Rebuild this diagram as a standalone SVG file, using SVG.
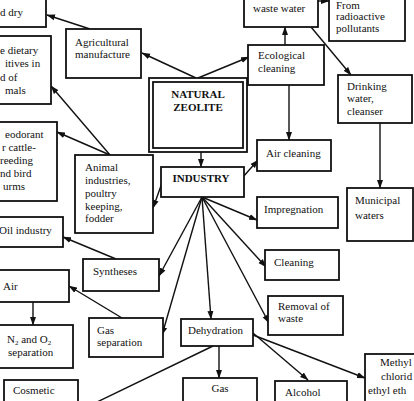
<svg xmlns="http://www.w3.org/2000/svg" width="414" height="401" viewBox="0 0 414 401">
<style>
.b{fill:#fff;stroke:#111;stroke-width:1.8}
.t{font-family:"Liberation Serif","Times New Roman",serif;font-size:11px;fill:#111}
.bold{font-weight:bold}
.c{stroke:#111;stroke-width:1.4;fill:none}
.a{marker-end:url(#ah)}
</style>
<defs>
<marker id="ah" markerUnits="userSpaceOnUse" markerWidth="9" markerHeight="7" refX="8" refY="3.5" orient="auto">
<path d="M0,0.5 L8.5,3.5 L0,6.5 z" fill="#111"/>
</marker>
</defs>
<rect width="414" height="401" fill="#fff"/>
<g id="connectors">
<line class="c a" x1="90" y1="29" x2="47" y2="15"/>
<line class="c a" x1="196" y1="78" x2="142" y2="53"/>
<line class="c a" x1="198" y1="78" x2="249" y2="57"/>
<line class="c a" x1="285" y1="45" x2="285" y2="27"/>
<line class="c a" x1="311" y1="27" x2="351" y2="75"/>
<line class="c a" x1="318" y1="1" x2="329" y2="1"/>
<line class="c a" x1="289" y1="85" x2="289" y2="140"/>
<line class="c a" x1="380" y1="123" x2="380" y2="188"/>
<line class="c a" x1="201" y1="152" x2="201" y2="167"/>
<line class="c a" x1="243" y1="177" x2="258" y2="160"/>
<line class="c a" x1="162" y1="183" x2="153" y2="208"/>
<line class="c a" x1="202" y1="197" x2="257" y2="220"/>
<line class="c a" x1="202" y1="197" x2="266" y2="267"/>
<line class="c a" x1="202" y1="197" x2="269" y2="323"/>
<line class="c a" x1="202" y1="197" x2="211" y2="319"/>
<line class="c a" x1="202" y1="197" x2="162" y2="335"/>
<line class="c a" x1="202" y1="197" x2="159" y2="276"/>
<line class="c a" x1="110" y1="155" x2="51" y2="86"/>
<line class="c a" x1="110" y1="155" x2="57" y2="132"/>
<line class="c a" x1="116" y1="259" x2="63" y2="237"/>
<line class="c a" x1="122" y1="318" x2="69" y2="286"/>
<line class="c a" x1="33" y1="302" x2="33" y2="325"/>
<line class="c a" x1="219" y1="346" x2="219" y2="378"/>
<line class="c" x1="213" y1="346" x2="95" y2="403"/>
<line class="c a" x1="253" y1="333" x2="308" y2="380"/>
<line class="c a" x1="253" y1="335" x2="365" y2="378"/>
</g>
<g id="n-dry"><rect class="b" x="-10" y="-10" width="56" height="37"/><text class="t" x="0" y="16">d dry</text></g>
<g id="n-dietary"><rect class="b" x="-10" y="36" width="61" height="68"/>
<text class="t" x="0" y="54">e dietary</text><text class="t" x="5" y="67">itives in</text><text class="t" x="0" y="81">d of</text><text class="t" x="5" y="94">mals</text></g>
<g id="n-deodorant"><rect class="b" x="-10" y="122" width="67" height="79"/>
<text class="t" x="5" y="138">eodorant</text><text class="t" x="2" y="151">r cattle-</text><text class="t" x="0" y="164">reeding</text><text class="t" x="0" y="177">nd bird</text><text class="t" x="3" y="190">urms</text></g>
<g id="n-agri"><rect class="b" x="66" y="29" width="75" height="49"/>
<text class="t" x="75" y="46">Agricultural</text><text class="t" x="75" y="58">manufacture</text></g>
<g id="n-zeolite"><rect class="b" x="149" y="78" width="98" height="74" stroke-width="2"/><rect class="b" x="153" y="82" width="90" height="66" stroke-width="1.5"/>
<text class="t bold" x="198" y="98" text-anchor="middle" font-size="12">NATURAL</text><text class="t bold" x="198" y="111" text-anchor="middle" font-size="12">ZEOLITE</text></g>
<g id="n-industry"><rect class="b" x="161" y="167" width="83" height="30"/><text class="t bold" x="201" y="182" text-anchor="middle">INDUSTRY</text></g>
<g id="n-eco"><rect class="b" x="248" y="45" width="76" height="40"/>
<text class="t" x="258" y="59">Ecological</text><text class="t" x="258" y="72">cleaning</text></g>
<g id="n-wastewater"><rect class="b" x="244" y="-10" width="74" height="37"/><text class="t" x="253" y="12">waste water</text></g>
<g id="n-radio"><rect class="b" x="329" y="-10" width="76" height="51"/>
<text class="t" x="336" y="8.5">From</text><text class="t" x="336" y="20">radioactive</text><text class="t" x="336" y="32">pollutants</text></g>
<g id="n-drink"><rect class="b" x="338" y="75" width="74" height="48"/>
<text class="t" x="347" y="90">Drinking</text><text class="t" x="347" y="102">water,</text><text class="t" x="347" y="115">cleanser</text></g>
<g id="n-municipal"><rect class="b" x="347" y="188" width="66" height="53"/>
<text class="t" x="355" y="204">Municipal</text><text class="t" x="355" y="219">waters</text></g>
<g id="n-aircl"><rect class="b" x="257" y="140" width="74" height="31"/><text class="t" x="266" y="157">Air cleaning</text></g>
<g id="n-impreg"><rect class="b" x="257" y="197" width="81" height="31"/><text class="t" x="264" y="213">Impregnation</text></g>
<g id="n-cleaning"><rect class="b" x="265" y="250" width="74" height="30"/><text class="t" x="274" y="266">Cleaning</text></g>
<g id="n-removal"><rect class="b" x="268" y="296" width="75" height="39"/>
<text class="t" x="278" y="310">Removal of</text><text class="t" x="278" y="322">waste</text></g>
<g id="n-dehyd"><rect class="b" x="181" y="319" width="72" height="27"/><text class="t" x="188" y="334">Dehydration</text></g>
<g id="n-gas"><rect class="b" x="183" y="378" width="74" height="30"/><text class="t" x="220" y="392" text-anchor="middle">Gas</text></g>
<g id="n-alcohol"><rect class="b" x="275" y="381" width="72" height="30"/><text class="t" x="285" y="396">Alcohol</text></g>
<g id="n-methyl"><rect class="b" x="365" y="354" width="60" height="60"/>
<text class="t" x="380" y="366">Methyl</text><text class="t" x="381" y="380">chlorid</text><text class="t" x="368" y="394">ethyl eth</text></g>
<g id="n-syntheses"><rect class="b" x="83" y="259" width="76" height="32"/><text class="t" x="93" y="275">Syntheses</text></g>
<g id="n-oil"><rect class="b" x="-10" y="217" width="73" height="30"/><text class="t" x="-1" y="234">Oil industry</text></g>
<g id="n-air"><rect class="b" x="-10" y="270" width="79" height="32"/><text class="t" x="3" y="290">Air</text></g>
<g id="n-n2o2"><rect class="b" x="-10" y="325" width="83" height="43"/>
<text class="t" x="7" y="343">N<tspan font-size="7" dy="2">2</tspan><tspan dy="-2"> and O</tspan><tspan font-size="7" dy="2">2</tspan></text><text class="t" x="8" y="356">separation</text></g>
<g id="n-gassep"><rect class="b" x="89" y="318" width="74" height="39"/>
<text class="t" x="97" y="334">Gas</text><text class="t" x="97" y="346">separation</text></g>
<g id="n-cosmetic"><rect class="b" x="4" y="380" width="74" height="30"/><text class="t" x="13" y="394">Cosmetic</text></g>
<g id="n-animal"><rect class="b" x="75" y="155" width="78" height="78"/>
<text class="t" x="85" y="171">Animal</text><text class="t" x="85" y="184">industries,</text><text class="t" x="85" y="197">poultry</text><text class="t" x="85" y="210">keeping,</text><text class="t" x="85" y="222">fodder</text></g>
</svg>
